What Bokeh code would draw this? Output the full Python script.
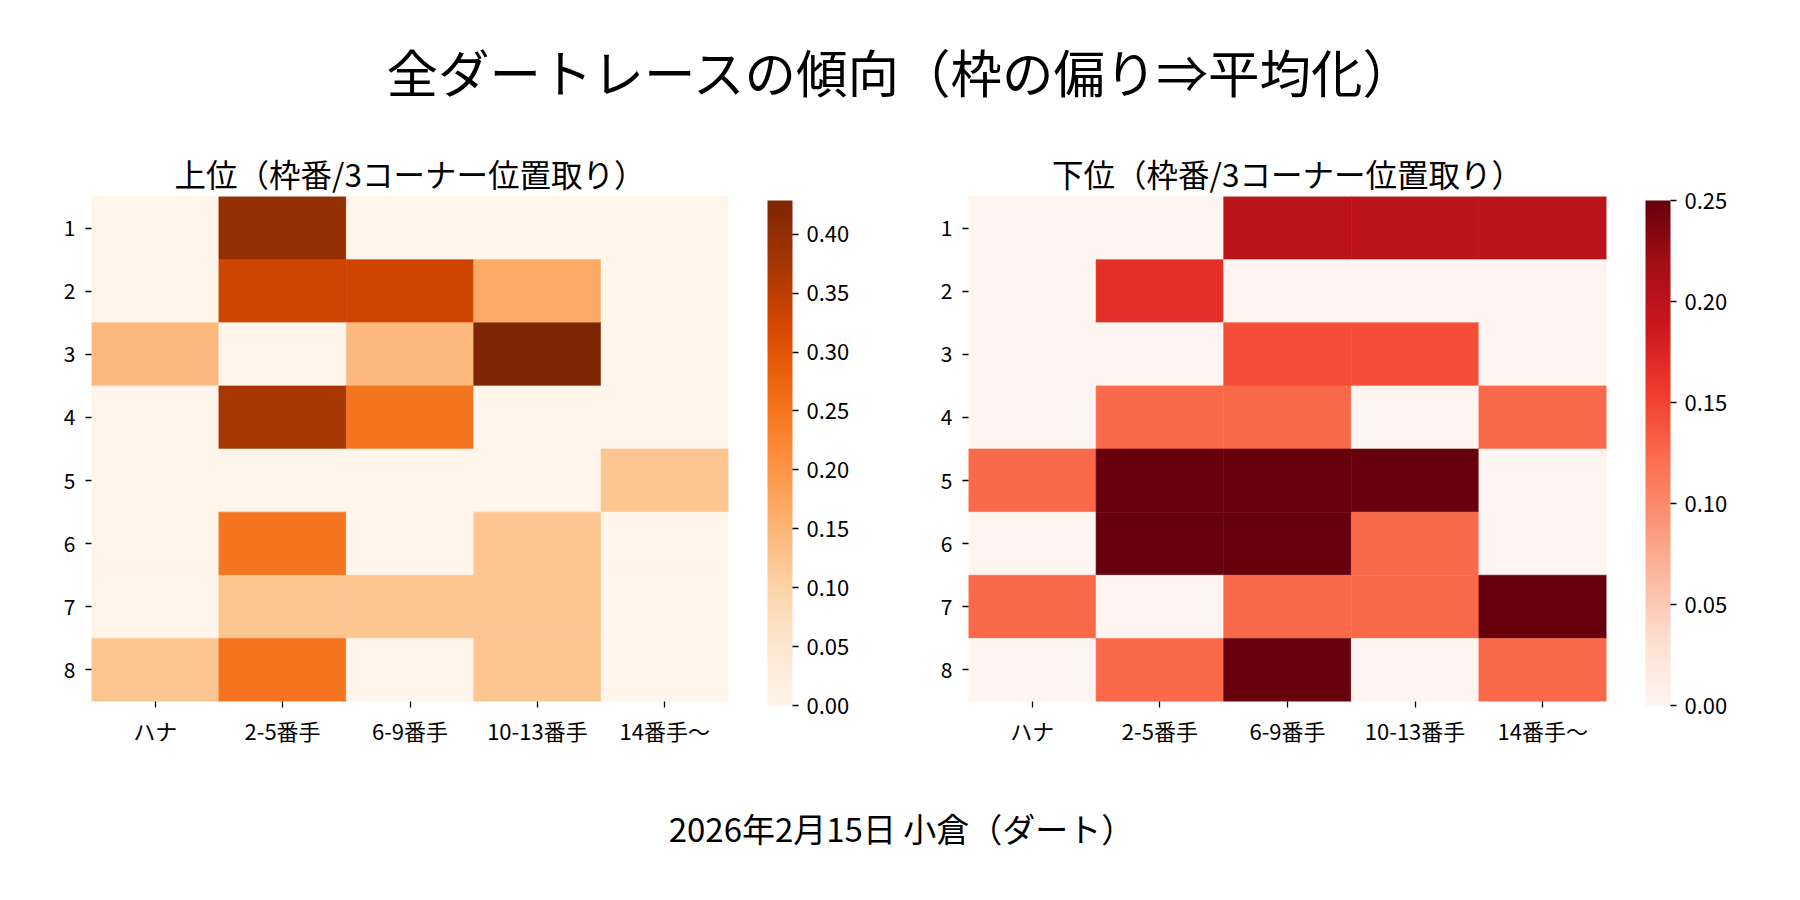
from bokeh.plotting import figure
from bokeh.models import (ColumnDataSource, LinearColorMapper, ColorBar, FixedTicker,
                          PrintfTickFormatter, FactorRange, Range1d)
from bokeh.transform import transform
from bokeh.layouts import column, row
from bokeh.palettes import Oranges9, Reds9, interp_palette
from bokeh.core.properties import value
from bokeh.embed import file_html
from bokeh.resources import INLINE

FONT = "Noto Sans CJK JP"

suptitle = "全ダートレースの傾向（枠の偏り⇒平均化）"
footer = "2026年2月15日 小倉（ダート）"
title_upper = "上位（枠番/3コーナー位置取り）"
title_lower = "下位（枠番/3コーナー位置取り）"

positions = ["ハナ", "2-5番手", "6-9番手", "10-13番手", "14番手〜"]
gates = ["1", "2", "3", "4", "5", "6", "7", "8"]

# rows = gates 1..8, columns = positions
upper = [
    [0.0,   0.400, 0.0,   0.0,    0.0],
    [0.0,   0.333, 0.333, 0.1667, 0.0],
    [0.1429, 0.0,  0.1429, 0.4286, 0.0],
    [0.0,   0.375, 0.25,  0.0,    0.0],
    [0.0,   0.0,   0.0,   0.0,    0.125],
    [0.0,   0.25,  0.0,   0.125,  0.0],
    [0.0,   0.125, 0.125, 0.125,  0.0],
    [0.125, 0.25,  0.0,   0.125,  0.0],
]
lower = [
    [0.0,   0.0,    0.2,    0.2,    0.2],
    [0.0,   0.1667, 0.0,    0.0,    0.0],
    [0.0,   0.0,    0.1429, 0.1429, 0.0],
    [0.0,   0.125,  0.125,  0.0,    0.125],
    [0.125, 0.25,   0.25,   0.25,   0.0],
    [0.0,   0.25,   0.25,   0.125,  0.0],
    [0.125, 0.0,    0.125,  0.125,  0.25],
    [0.0,   0.125,  0.25,   0.0,    0.125],
]
upper_max = 0.4286
lower_max = 0.25
upper_ticks = [0.0, 0.05, 0.10, 0.15, 0.20, 0.25, 0.30, 0.35, 0.40]
lower_ticks = [0.0, 0.05, 0.10, 0.15, 0.20, 0.25]


def text_fig(w, h, txt, x, y, size):
    f = figure(width=w, height=h, x_range=Range1d(0, w), y_range=Range1d(h, 0),
               x_axis_location=None, y_axis_location=None, min_border=0,
               toolbar_location=None, output_backend="svg")
    f.grid.visible = False
    f.outline_line_color = None
    f.text(x=[x], y=[y], text=[txt], text_font=value(FONT), text_font_size=size,
           text_align="center", text_baseline="middle", text_color="black")
    return f


def heat(data, vmax, pal9, ticks, title, width, left, fw, right):
    xs, ys, vs = [], [], []
    for i, g in enumerate(gates):
        for j, c in enumerate(positions):
            xs.append(c)
            ys.append(g)
            vs.append(data[i][j])
    src = ColumnDataSource(dict(x=xs, y=ys, v=vs))
    pal = interp_palette(list(reversed(pal9)), 256)
    mapper = LinearColorMapper(palette=pal, low=0.0, high=vmax)
    p = figure(width=width, height=608, x_range=FactorRange(*positions),
               y_range=FactorRange(*reversed(gates)), toolbar_location=None,
               output_backend="svg", min_border_left=left, min_border_right=right,
               min_border_top=46, min_border_bottom=57)
    p.frame_width = fw
    p.frame_height = 505
    p.rect(x="x", y="y", width=1, height=1, source=src,
           fill_color=transform("v", mapper), line_color=transform("v", mapper),
           line_width=0.6)
    p.title.text = title
    p.title.align = "center"
    p.title.vertical_align = "bottom"
    p.title.standoff = 2
    p.title.text_font = FONT
    p.title.text_font_size = "31.5px"
    p.title.text_font_style = "normal"
    p.title.text_color = "black"
    p.grid.visible = False
    p.outline_line_color = None
    for ax in (p.xaxis[0], p.yaxis[0]):
        ax.axis_line_color = None
        ax.major_tick_in = 0
        ax.major_tick_out = 6
        ax.major_tick_line_color = "black"
        ax.major_tick_line_width = 1.3
        ax.minor_tick_line_color = None
        ax.major_label_text_font = FONT
        ax.major_label_text_font_size = "21px"
        ax.major_label_text_color = "black"
    p.xaxis.major_label_text_font_size = "22px"
    p.xaxis.major_label_standoff = 6
    p.yaxis.major_label_standoff = 10
    cb = ColorBar(color_mapper=mapper, width=25, height=505, padding=0, margin=0,
                  location=(39, -4),
                  ticker=FixedTicker(ticks=ticks),
                  formatter=PrintfTickFormatter(format="%.2f"),
                  major_tick_in=0, major_tick_out=6, major_tick_line_color="black",
                  major_tick_line_width=1.3, minor_tick_line_color=None,
                  label_standoff=8, major_label_text_font=FONT,
                  major_label_text_font_size="22px", major_label_text_color="black",
                  bar_line_color=None, border_line_color=None,
                  background_fill_color=None)
    p.add_layout(cb, "right")
    return p


top = text_fig(1784, 146, suptitle, 901, 70, "51.5px")
p1 = heat(upper, upper_max, Oranges9, upper_ticks, title_upper, 879, 91, 637, 151)
p2 = heat(lower, lower_max, Reds9, lower_ticks, title_lower, 905, 89, 638, 178)
bottom = text_fig(1784, 122, footer, 901, 69, "33px")

layout = column(top, row(p1, p2), bottom)
open("out.html", "w").write(file_html(layout, INLINE))
